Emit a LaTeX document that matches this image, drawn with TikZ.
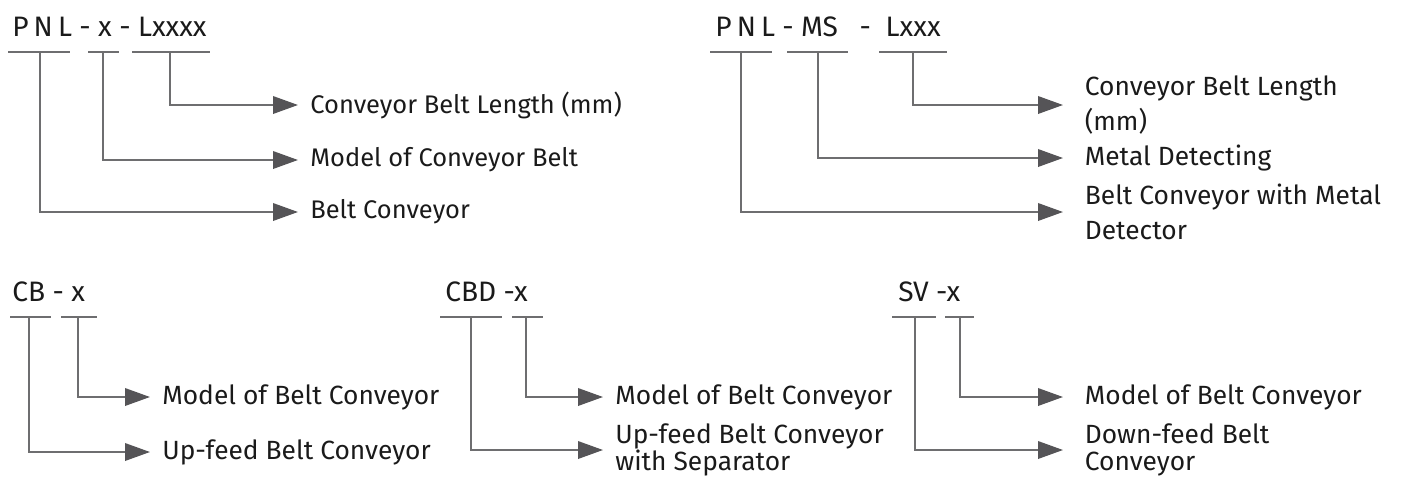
\documentclass[tikz,border=0pt]{standalone}
\usepackage{fontspec}
\setmainfont{Fira Sans}
\usepackage{tikz}
\usetikzlibrary{arrows.meta,positioning}
\definecolor{linegray}{HTML}{6E6E70}
\definecolor{tipgray}{HTML}{555457}
\definecolor{textdark}{HTML}{1A1A1A}
\newcommand{\spaced}[1]{{\addfontfeature{LetterSpace=18}#1}}
\tikzset{
  code/.style={anchor=west,inner sep=0pt,font=\fontsize{16}{19}\selectfont,text=textdark},
  desc/.style={anchor=west,inner xsep=0.24cm,inner ysep=0pt,align=left,font=\fontsize{14.5}{20}\selectfont,text=textdark},
  descr/.style={desc,inner xsep=0.43cm,font=\fontsize{15}{20}\selectfont},
  descb/.style={desc,font=\fontsize{15}{15.5}\selectfont},
  descbr/.style={descb,inner xsep=0.43cm},
  bar/.style={line width=1.1pt,draw=linegray},
  arrow/.style={-{Triangle[length=0.5cm,width=0.35cm,color=tipgray]},line width=1.1pt,draw=linegray}
}
\begin{document}
\begin{tikzpicture}[x=0.02cm,y=-0.02cm]
  \useasboundingbox (0,0) rectangle (1402,477);
  % PNL - x - Lxxxx
  \node[code] (pa) at (12,27) {\spaced{PNL} - x - Lxxxx};
  \foreach \a/\b in {8/70,88/119,132/210} \draw[bar] (\a,52) -- (\b,52);
  \coordinate (pa1) at (40,52);
  \coordinate (pa2) at (103,52);
  \coordinate (pa3) at (170,52);
  \node[desc] (pa3t) at (298,105) {Conveyor Belt Length (mm)};
  \node[desc] (pa2t) at (298,160) {Model of Conveyor Belt};
  \node[desc] (pa1t) at (298,212) {Belt Conveyor};
  \draw[arrow] (pa3) |- (pa3t.west);
  \draw[arrow] (pa2) |- (pa2t.west);
  \draw[arrow] (pa1) |- (pa1t.west);
  % PNL - MS - Lxxx
  \node[code] (pb) at (715,27) {\spaced{PNL} - MS \enspace- \ Lxxx};
  \foreach \a/\b in {710/772,787/848,879/947} \draw[bar] (\a,52) -- (\b,52);
  \coordinate (pb1) at (741,52);
  \coordinate (pb2) at (818,52);
  \coordinate (pb3) at (913,52);
  \node[descr] (pb3t) at (1063,105) {Conveyor Belt Length\\(mm)};
  \node[descr] (pb2t) at (1063,158) {Metal Detecting};
  \node[descr] (pb1t) at (1063,212) {Belt Conveyor with Metal\\Detector};
  \draw[arrow] (pb3) |- (pb3t.west);
  \draw[arrow] (pb2) |- (pb2t.west);
  \draw[arrow] (pb1) |- (pb1t.west);
  % CB - x
  \node[code] (pc) at (12,292) {CB - x};
  \foreach \a/\b in {10/51,61/97} \draw[bar] (\a,317) -- (\b,317);
  \coordinate (pc1) at (29,317);
  \coordinate (pc2) at (78,317);
  \node[descb] (pc2t) at (150,397) {Model of Belt Conveyor};
  \node[descb] (pc1t) at (150,452) {Up-feed Belt Conveyor};
  \draw[arrow] (pc2) |- (pc2t.west);
  \draw[arrow] (pc1) |- (pc1t.west);
  % CBD -x
  \node[code] (pd) at (445,292) {CBD -x};
  \foreach \a/\b in {440/502,512/543} \draw[bar] (\a,317) -- (\b,317);
  \coordinate (pd1) at (471,317);
  \coordinate (pd2) at (526,317);
  \node[descb] (pd2t) at (603,397) {Model of Belt Conveyor};
  \node[descb] (pd1t) at (603,450) {Up-feed Belt Conveyor\\with Separator};
  \draw[arrow] (pd2) |- (pd2t.west);
  \draw[arrow] (pd1) |- (pd1t.west);
  % SV -x
  \node[code] (pe) at (898,292) {SV -x};
  \foreach \a/\b in {892/936,945/974} \draw[bar] (\a,317) -- (\b,317);
  \coordinate (pe1) at (915,317);
  \coordinate (pe2) at (960,317);
  \node[descbr] (pe2t) at (1063,397) {Model of Belt Conveyor};
  \node[descbr] (pe1t) at (1063,450) {Down-feed Belt\\Conveyor};
  \draw[arrow] (pe2) |- (pe2t.west);
  \draw[arrow] (pe1) |- (pe1t.west);
\end{tikzpicture}
\end{document}
